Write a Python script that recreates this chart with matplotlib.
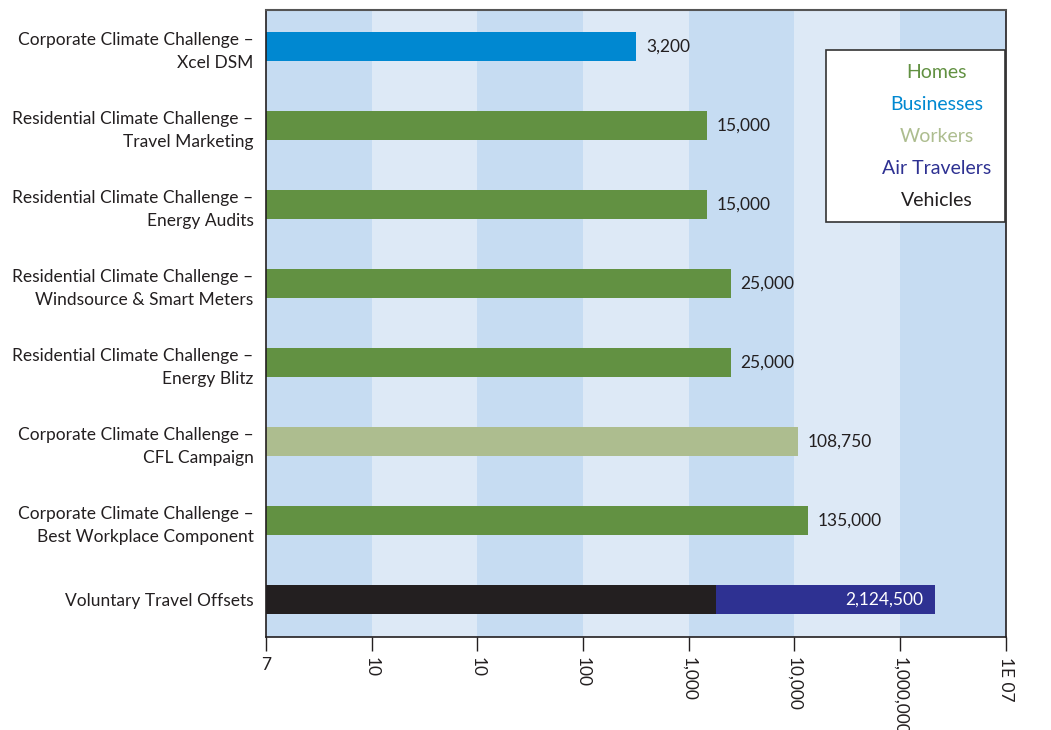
import numpy as np
import matplotlib.pyplot as plt
from matplotlib.patches import Rectangle

plt.rcParams['font.family'] = ['Lato', 'DejaVu Sans']

# data
programas = [
    "Corporate Climate Challenge –\nXcel DSM",
    "Residential Climate Challenge –\nTravel Marketing",
    "Residential Climate Challenge –\nEnergy Audits",
    "Residential Climate Challenge –\nWindsource & Smart Meters",
    "Residential Climate Challenge –\nEnergy Blitz",
    "Corporate Climate Challenge –\nCFL Campaign",
    "Corporate Climate Challenge –\nBest Workplace Component",
    "Voluntary Travel Offsets",
]
valores = [3200, 15000, 15000, 25000, 25000, 108750, 135000, 2124500]
grupos = ["Businesses", "Homes", "Homes", "Homes", "Homes", "Workers", "Homes", "Air Travelers"]
etiquetas_valor = ["3,200", "15,000", "15,000", "25,000", "25,000", "108,750", "135,000", "2,124,500"]
vehiculos = 18000  # black part of the last bar

tick_pos = [1, 10, 100, 1000, 10000, 100000, 1000000, 10000000]
tick_labels = ["7", "10", "10", "100", "1,000", "10,000", "1,000,000", "1E 07"]

colores = {
    "Homes": "#629142",
    "Businesses": "#0088d1",
    "Workers": "#adbd8f",
    "Air Travelers": "#2e3192",
    "Vehicles": "#231f20",
}
leyenda = ["Homes", "Businesses", "Workers", "Air Travelers", "Vehicles"]

fig = plt.figure(figsize=(10.51, 7.30), dpi=100)
ax = fig.add_axes([0.253, 0.127, 0.704, 0.859])
ax.set_xscale("log")
ax.set_xlim(1, 1e7)
ax.set_ylim(7.48, -0.46)

# alternating bands
for i in range(7):
    color = "#c6dcf2" if i % 2 == 0 else "#dde9f6"
    ax.axvspan(tick_pos[i], tick_pos[i + 1], color=color, zorder=0, lw=0)

y = np.arange(len(programas))
h = 0.36
for i, (v, g) in enumerate(zip(valores, grupos)):
    if g == "Air Travelers":
        ax.barh(i, vehiculos - 1, left=1, height=h, color=colores["Vehicles"], zorder=2)
        ax.barh(i, v - vehiculos, left=vehiculos, height=h, color=colores[g], zorder=2)
        ax.annotate(etiquetas_valor[i], (v, i), xytext=(-8, 0), textcoords="offset points",
                    ha="right", va="center", color="white", fontsize=12.5, zorder=3)
    else:
        ax.barh(i, v - 1, left=1, height=h, color=colores[g], zorder=2)
        ax.annotate(etiquetas_valor[i], (v, i), xytext=(7, 0), textcoords="offset points",
                    ha="left", va="center", color="#231f20", fontsize=12.5, zorder=3)

ax.set_yticks(y)
ax.set_yticklabels(programas, fontsize=12.5, ha="right", color="#231f20", linespacing=1.55)
ax.tick_params(axis="y", length=0, pad=9)

ax.set_xticks(tick_pos)
ax.set_xticklabels(tick_labels, rotation=270, fontsize=12.5, color="#231f20")
ax.get_xticklabels()[0].set_rotation(0)
ax.xaxis.set_minor_locator(plt.NullLocator())
ax.tick_params(axis="x", length=10, width=1, color="#231f20", pad=4)

for lado in ["left", "right", "bottom"]:
    ax.spines[lado].set_color("#231f20")
    ax.spines[lado].set_linewidth(1.2)
ax.spines["top"].set_color("#555555")
ax.spines["top"].set_linewidth(1.5)

# legend box
ax.add_patch(Rectangle((0.757, 0.662), 0.242, 0.274, transform=ax.transAxes,
                       facecolor="white", edgecolor="#333333", lw=1.2, zorder=4))
for k, nombre in enumerate(leyenda):
    ax.text(0.907, 0.901 - k * 0.051, nombre, transform=ax.transAxes, ha="center",
            va="center", fontsize=14, color=colores[nombre], zorder=5)

fig.savefig("out.png", dpi=100)
